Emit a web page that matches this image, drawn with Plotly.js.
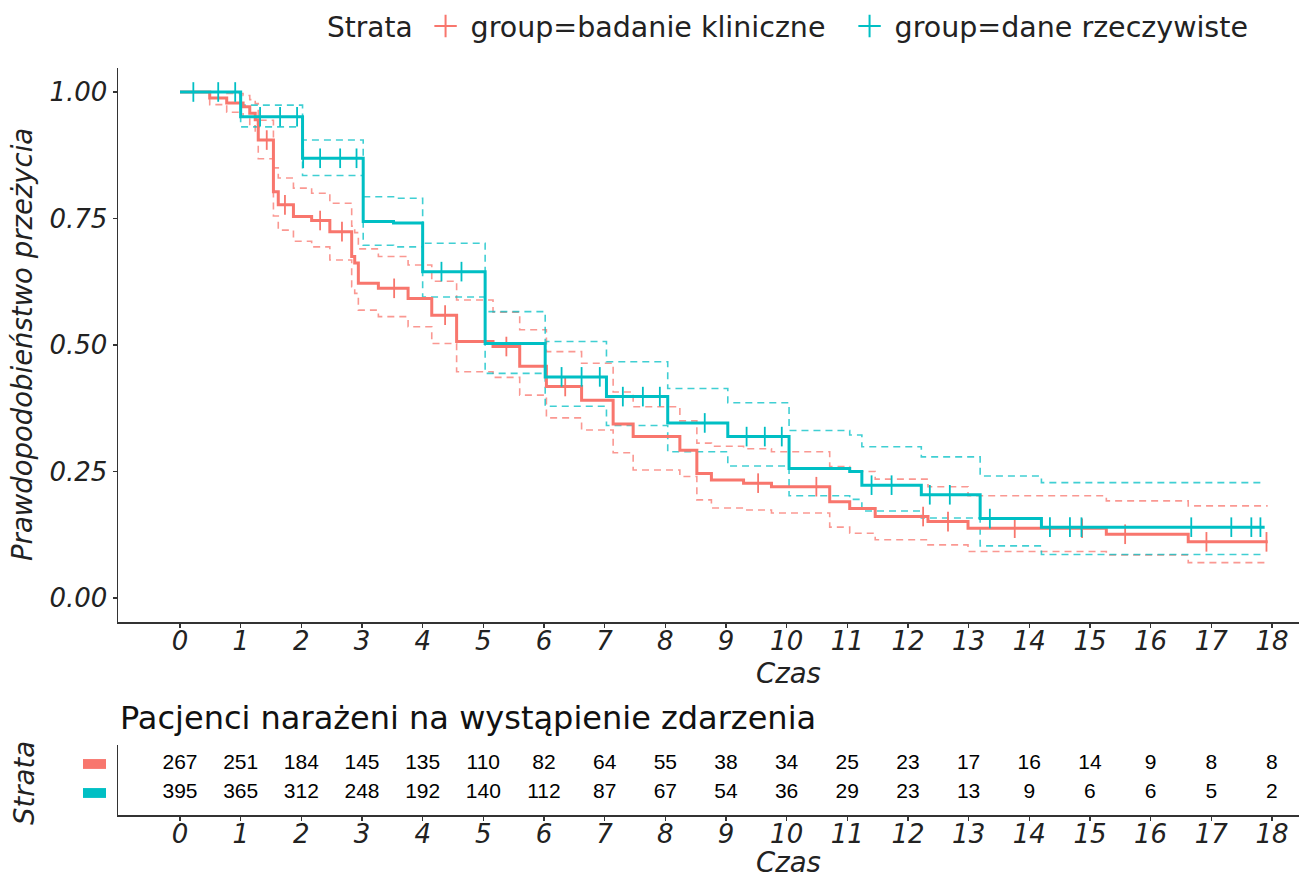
<!DOCTYPE html>
<html>
<head>
<meta charset="utf-8">
<script src="https://cdn.plot.ly/plotly-3.0.1.min.js"></script>
<style>
html,body{margin:0;padding:0;background:#fff;}
#chart{width:1299px;height:877px;}
</style>
</head>
<body>
<div id="chart"></div>
<script>
// ---- Data ----
const groupNames = ["group=badanie kliniczne", "group=dane rzeczywiste"];

// Kaplan-Meier: badanie kliniczne (red)
const timeClinical  = [0, 0.49, 0.77, 1.04, 1.15, 1.24, 1.29, 1.54, 1.62, 1.87, 2.17, 2.47, 2.83, 2.88, 2.94, 3.27, 3.76, 4.15, 4.56, 5.16, 5.6, 6.04, 6.62, 7.14, 7.47, 8.24, 8.52, 8.76, 9.29, 9.75, 10.71, 11.04, 11.46, 12.33, 12.99, 15.27, 16.62];
const survClinical  = [1.0, 0.988, 0.978, 0.971, 0.958, 0.945, 0.905, 0.803, 0.777, 0.754, 0.746, 0.724, 0.675, 0.662, 0.622, 0.612, 0.592, 0.559, 0.507, 0.497, 0.458, 0.418, 0.391, 0.344, 0.319, 0.292, 0.246, 0.233, 0.227, 0.22, 0.19, 0.177, 0.161, 0.151, 0.138, 0.126, 0.111];
const upperClinical = [1.0, 1.0, 0.997, 0.993, 0.985, 0.977, 0.944, 0.85, 0.83, 0.81, 0.80, 0.78, 0.735, 0.722, 0.69, 0.675, 0.658, 0.626, 0.589, 0.565, 0.53, 0.487, 0.464, 0.407, 0.378, 0.35, 0.306, 0.30, 0.295, 0.289, 0.26, 0.25, 0.235, 0.22, 0.202, 0.192, 0.182];
const lowerClinical = [1.0, 0.975, 0.96, 0.95, 0.933, 0.915, 0.868, 0.755, 0.727, 0.705, 0.694, 0.668, 0.615, 0.602, 0.569, 0.556, 0.536, 0.503, 0.447, 0.436, 0.401, 0.356, 0.332, 0.287, 0.253, 0.24, 0.194, 0.178, 0.174, 0.168, 0.14, 0.128, 0.115, 0.105, 0.092, 0.085, 0.07];
const endClinical = 17.93;
const censorClinical = [1.43, 1.73, 2.31, 2.67, 3.53, 4.37, 5.38, 6.35, 9.53, 10.49, 12.25, 12.66, 13.76, 14.87, 15.58, 16.92, 17.91];

// Kaplan-Meier: dane rzeczywiste (teal)
const timeReal  = [0, 1.0, 2.02, 3.02, 3.52, 4.0, 5.03, 6.02, 7.03, 8.04, 9.03, 10.04, 11.04, 11.24, 12.22, 13.19, 14.2];
const survReal  = [1.0, 0.951, 0.869, 0.744, 0.741, 0.645, 0.503, 0.437, 0.398, 0.346, 0.319, 0.256, 0.25, 0.223, 0.204, 0.157, 0.14];
const upperReal = [1.0, 0.974, 0.905, 0.793, 0.79, 0.701, 0.566, 0.507, 0.467, 0.414, 0.386, 0.331, 0.322, 0.299, 0.279, 0.241, 0.228];
const lowerReal = [1.0, 0.931, 0.835, 0.697, 0.694, 0.595, 0.444, 0.379, 0.341, 0.289, 0.261, 0.202, 0.195, 0.172, 0.158, 0.103, 0.086];
const endReal = 17.88;
const censorReal = [0.22, 0.63, 0.91, 1.32, 1.65, 1.93, 2.03, 2.31, 2.64, 2.91, 4.31, 4.64, 6.29, 6.62, 6.92, 7.3, 7.63, 7.91, 8.65, 9.34, 9.64, 9.92, 11.4, 11.73, 12.36, 12.69, 13.35, 14.34, 14.67, 14.86, 16.67, 17.33, 17.66, 17.81];

// Risk table
const riskTimes = [0,1,2,3,4,5,6,7,8,9,10,11,12,13,14,15,16,17,18];
const riskClinical = [267,251,184,145,135,110,82,64,55,38,34,25,23,17,16,14,9,8,8];
const riskReal     = [395,365,312,248,192,140,112,87,67,54,36,29,23,13,9,6,6,5,2];

const yTickVals = [0, 0.25, 0.5, 0.75, 1.0];
const yTickText = ["0.00", "0.25", "0.50", "0.75", "1.00"];

// ---- Styling ----
const RED = "#F8766D", TEAL = "#00BFC4";
const FONT = "DejaVu Sans";
const AX = "#333333";

function stepXY(t, v, end) {
  return { x: t.concat([end]), y: v.concat([v[v.length - 1]]) };
}
function stepAt(t, v, c) {
  let val = v[0];
  for (let i = 0; i < t.length; i++) { if (t[i] <= c) val = v[i]; }
  return val;
}

const groups = [
  {name: groupNames[0], color: RED, t: timeClinical, s: survClinical, u: upperClinical, l: lowerClinical, end: endClinical, c: censorClinical},
  {name: groupNames[1], color: TEAL, t: timeReal, s: survReal, u: upperReal, l: lowerReal, end: endReal, c: censorReal}
];

const traces = [];
groups.forEach(g => {
  [g.u, g.l].forEach(arr => {
    const p = stepXY(g.t, arr, g.end);
    traces.push({x: p.x, y: p.y, type: "scatter", mode: "lines", line: {shape: "hv", color: g.color, width: 1.6, dash: "7px,5px"},
      opacity: 0.75, showlegend: false, hoverinfo: "skip", xaxis: "x", yaxis: "y"});
  });
});
groups.forEach(g => {
  const p = stepXY(g.t, g.s, g.end);
  traces.push({x: p.x, y: p.y, type: "scatter", mode: "lines", line: {shape: "hv", color: g.color, width: 3},
    showlegend: false, xaxis: "x", yaxis: "y"});
  traces.push({x: g.c, y: g.c.map(c => stepAt(g.t, g.s, c)), type: "scatter", mode: "markers",
    marker: {symbol: "line-ns-open", size: 14, color: g.color, line: {color: g.color, width: 1.8}},
    showlegend: false, xaxis: "x", yaxis: "y"});
});
// legend entries
groups.forEach(g => {
  traces.push({x: [null], y: [null], type: "scatter", mode: "markers", name: g.name,
    marker: {symbol: "cross-thin-open", size: 20, color: g.color, line: {color: g.color, width: 2}},
    xaxis: "x", yaxis: "y"});
});
// risk table
traces.push({x: riskTimes, y: riskTimes.map(() => 2), text: riskClinical.map(String), type: "scatter", mode: "text",
  textfont: {family: "Liberation Sans", size: 21, color: "#000"}, showlegend: false, xaxis: "x2", yaxis: "y2", hoverinfo: "skip"});
traces.push({x: riskTimes, y: riskTimes.map(() => 1), text: riskReal.map(String), type: "scatter", mode: "text",
  textfont: {family: "Liberation Sans", size: 21, color: "#000"}, showlegend: false, xaxis: "x2", yaxis: "y2", hoverinfo: "skip"});

const W = 1299, H = 877;
const px = v => v / W;
const py = v => 1 - v / H;

const xCommon = {
  range: [-1.022, 18.446], tickmode: "array", tickvals: riskTimes, ticktext: riskTimes.map(String),
  showline: true, linecolor: AX, linewidth: 1.5, ticks: "outside", ticklen: 4, tickwidth: 1.5, tickcolor: AX,
  showgrid: false, zeroline: false, ticklabelstandoff: -9,
  tickfont: {family: FONT, size: 26, color: "#222", style: "italic"}
};

const layout = {
  width: W, height: H, autosize: false,
  margin: {l: 0, r: 0, t: 0, b: 0},
  paper_bgcolor: "#fff", plot_bgcolor: "#fff",
  showlegend: true,
  legend: {
    orientation: "h", x: px(325), xanchor: "left", y: py(1), yanchor: "top",
    title: {text: "Strata", font: {family: FONT, size: 28, color: "#222"}, side: "left"},
    font: {family: FONT, size: 28.5, color: "#222"},
    itemwidth: 40, entrywidth: 369, entrywidthmode: "pixels",
    bgcolor: "rgba(0,0,0,0)", traceorder: "normal"
  },
  xaxis: Object.assign({}, xCommon, {domain: [px(118), 1], anchor: "y"}),
  yaxis: {
    domain: [py(622), py(68)], range: [-0.0474, 1.0474], anchor: "x",
    tickmode: "array", tickvals: yTickVals, ticktext: yTickText,
    showline: true, linecolor: AX, linewidth: 1.5, ticks: "outside", ticklen: 4, tickwidth: 1.5, tickcolor: AX,
    showgrid: false, zeroline: false,
    tickfont: {family: FONT, size: 26, color: "#222", style: "italic"}
  },
  xaxis2: Object.assign({}, xCommon, {domain: [px(118), 1], anchor: "y2"}),
  yaxis2: {
    domain: [py(815), py(745)], range: [0.241, 2.655], anchor: "x2",
    showline: true, linecolor: AX, linewidth: 1.5, ticks: "", showticklabels: false,
    showgrid: false, zeroline: false
  },
  shapes: [
    {type: "rect", xref: "paper", yref: "y2", x0: px(83), x1: px(106), y0: 1.83, y1: 2.17, fillcolor: RED, line: {width: 0}},
    {type: "rect", xref: "paper", yref: "y2", x0: px(83), x1: px(106), y0: 0.83, y1: 1.17, fillcolor: TEAL, line: {width: 0}}
  ],
  annotations: [
    {text: "Prawdopodobieństwo przeżycia", xref: "paper", yref: "paper", x: px(22), y: py(345), textangle: -90,
      showarrow: false, xanchor: "center", yanchor: "middle", font: {family: FONT, size: 27.5, color: "#222", style: "italic"}},
    {text: "Czas", xref: "x", yref: "paper", x: 10.03, y: py(673), showarrow: false, xanchor: "center", yanchor: "middle",
      font: {family: FONT, size: 27.5, color: "#222", style: "italic"}},
    {text: "Pacjenci narażeni na wystąpienie zdarzenia", xref: "paper", yref: "paper", x: px(118), y: py(718), showarrow: false,
      xanchor: "left", yanchor: "middle", font: {family: FONT, size: 32, color: "#111"}},
    {text: "Strata", xref: "paper", yref: "paper", x: px(24), y: py(783), textangle: -90, showarrow: false,
      xanchor: "center", yanchor: "middle", font: {family: FONT, size: 27.5, color: "#222", style: "italic"}},
    {text: "Czas", xref: "x2", yref: "paper", x: 10.03, y: py(862), showarrow: false, xanchor: "center", yanchor: "middle",
      font: {family: FONT, size: 27.5, color: "#222", style: "italic"}}
  ]
};

Plotly.newPlot("chart", traces, layout, {displayModeBar: false, staticPlot: true});
</script>
</body>
</html>
